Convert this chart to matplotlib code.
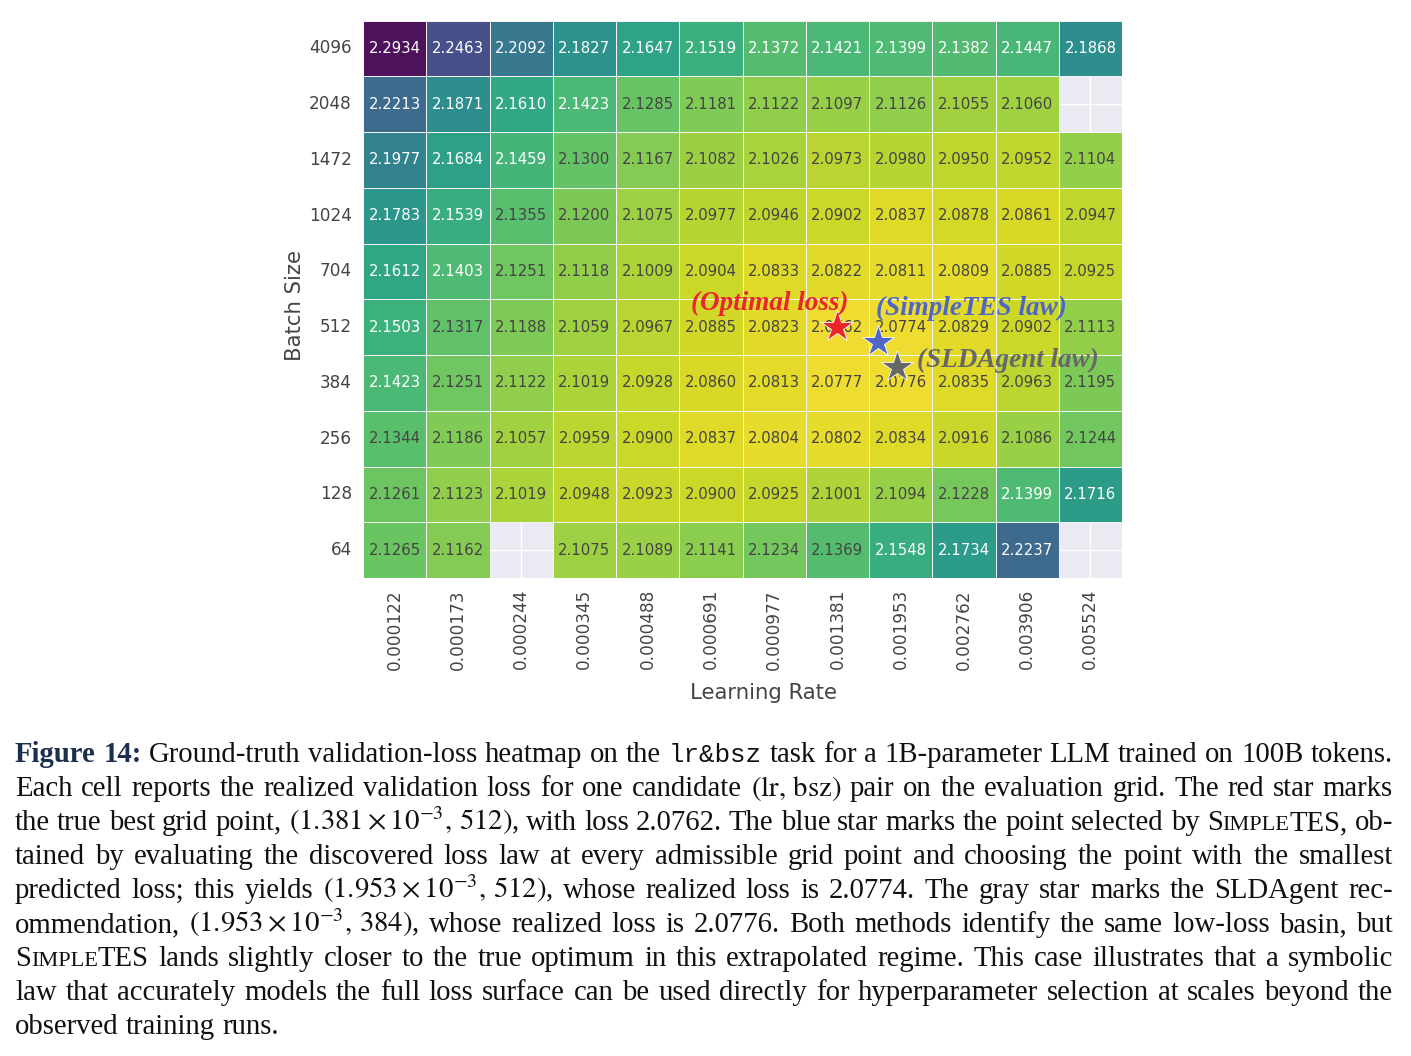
import matplotlib
matplotlib.use("Agg")
import matplotlib.pyplot as plt
from matplotlib.colors import ListedColormap
import numpy as np
import pandas as pd
import seaborn as sns

# grid values (rows top -> bottom)
learning_rates = ["0.000122", "0.000173", "0.000244", "0.000345", "0.000488", "0.000691",
                  "0.000977", "0.001381", "0.001953", "0.002762", "0.003906", "0.005524"]
batch_sizes = [4096, 2048, 1472, 1024, 704, 512, 384, 256, 128, 64]
nan = np.nan
loss_4096 = [2.2934, 2.2463, 2.2092, 2.1827, 2.1647, 2.1519, 2.1372, 2.1421, 2.1399, 2.1382, 2.1447, 2.1868]
loss_2048 = [2.2213, 2.1871, 2.1610, 2.1423, 2.1285, 2.1181, 2.1122, 2.1097, 2.1126, 2.1055, 2.1060, nan]
loss_1472 = [2.1977, 2.1684, 2.1459, 2.1300, 2.1167, 2.1082, 2.1026, 2.0973, 2.0980, 2.0950, 2.0952, 2.1104]
loss_1024 = [2.1783, 2.1539, 2.1355, 2.1200, 2.1075, 2.0977, 2.0946, 2.0902, 2.0837, 2.0878, 2.0861, 2.0947]
loss_704 = [2.1612, 2.1403, 2.1251, 2.1118, 2.1009, 2.0904, 2.0833, 2.0822, 2.0811, 2.0809, 2.0885, 2.0925]
loss_512 = [2.1503, 2.1317, 2.1188, 2.1059, 2.0967, 2.0885, 2.0823, 2.0762, 2.0774, 2.0829, 2.0902, 2.1113]
loss_384 = [2.1423, 2.1251, 2.1122, 2.1019, 2.0928, 2.0860, 2.0813, 2.0777, 2.0776, 2.0835, 2.0963, 2.1195]
loss_256 = [2.1344, 2.1186, 2.1057, 2.0959, 2.0900, 2.0837, 2.0804, 2.0802, 2.0834, 2.0916, 2.1086, 2.1244]
loss_128 = [2.1261, 2.1123, 2.1019, 2.0948, 2.0923, 2.0900, 2.0925, 2.1001, 2.1094, 2.1228, 2.1399, 2.1716]
loss_64 = [2.1265, 2.1162, nan, 2.1075, 2.1089, 2.1141, 2.1234, 2.1369, 2.1548, 2.1734, 2.2237, nan]

optimal_pt = ("0.001381", 512)
simpletes_pt = ("0.001953", 512)
sldagent_pt = ("0.001953", 384)

caption = [
    "**Figure **14: Ground-truth validation-loss heatmap on the `lr&bsz` task for a 1B-parameter LLM trained on 100B tokens.",
    r"Each cell reports the realized validation loss for one candidate $(\mathrm{lr},\,\mathrm{bsz})$ pair on the evaluation grid. The red star marks",
    r"the true best grid point, $(1.381\times10^{-3},\,512)$, with loss 2.0762. The blue star marks the point selected by SimpleTES, ob-",
    "tained by evaluating the discovered loss law at every admissible grid point and choosing the point with the smallest",
    r"predicted loss; this yields $(1.953\times10^{-3},\,512)$, whose realized loss is 2.0774. The gray star marks the SLDAgent rec-",
    r"ommendation, $(1.953\times10^{-3},\,384)$, whose realized loss is 2.0776. Both methods identify the same low-loss basin, but",
    "SimpleTES lands slightly closer to the true optimum in this extrapolated regime. This case illustrates that a symbolic",
    "law that accurately models the full loss surface can be used directly for hyperparameter selection at scales beyond the",
    "observed training runs.",
]

sns.set_theme(style="darkgrid")
plt.rcParams["mathtext.fontset"] = "stix"

W, H = 1411, 1056
fig = plt.figure(figsize=(W / 100, H / 100), dpi=100)
ax = fig.add_axes([363 / W, 1 - 578 / H, (1122 - 363) / W, (578 - 20.5) / H])

loss = pd.DataFrame([loss_4096, loss_2048, loss_1472, loss_1024, loss_704, loss_512,
                     loss_384, loss_256, loss_128, loss_64],
                    index=batch_sizes, columns=learning_rates)

# viridis_r, slightly toned down like the reference render
base = plt.get_cmap("viridis_r")(np.linspace(0, 1, 256))
base[:, :3] = 0.88 * base[:, :3] + 0.12 * 0.55
cmap = ListedColormap(base)

sns.heatmap(loss, ax=ax, cmap=cmap, annot=True, fmt=".4f", cbar=False,
            linewidths=0.6, linecolor="#f4f4f4", annot_kws={"size": 10.7})
# light text on the darker cells, grey text elsewhere
for t in ax.texts:
    t.set_color("white" if float(t.get_text()) >= 2.137 else "#444444")
ax.set_xticklabels(learning_rates, rotation=90, fontsize=12.2, color="#444444")
ax.set_yticklabels(batch_sizes, rotation=0, fontsize=12.2, color="#444444")
ax.tick_params(axis="both", length=0, pad=8)
ax.set_xlabel("Learning Rate", fontsize=15.3, color="#444444")
ax.set_ylabel("Batch Size", fontsize=15.3, color="#444444")
ax.xaxis.set_label_coords(0.528, -0.188)
ax.yaxis.set_label_coords(-0.077, 0.488)


def cell(pt):
    return learning_rates.index(pt[0]) + 0.5, batch_sizes.index(pt[1]) + 0.5


lab_font = dict(family="Liberation Serif", style="italic", weight="bold", fontsize=19.5)
markers = [
    (optimal_pt, "#e8262c", (0.0, 0.0), "(Optimal loss)", (-1.07, -0.43), "center"),
    (simpletes_pt, "#4f66c6", (-0.36, 0.27), "(SimpleTES law)", (-0.03, -0.61), "left"),
    (sldagent_pt, "#676767", (-0.06, -0.28), "(SLDAgent law)", (0.32, -0.13), "left"),
]
for pt, col, off, lab, loff, ha in markers:
    cx, cy = cell(pt)
    sx, sy = cx + off[0], cy + off[1]
    ax.plot(sx, sy, marker="*", ms=24, color=col, mec="white", mew=0.6, zorder=5)
    ax.text(sx + loff[0], sy + loff[1], lab, color=col, ha=ha, va="center", zorder=6, **lab_font)

# caption, typeset line by line with justified word spacing
fig.canvas.draw()
rend = fig.canvas.get_renderer()
navy = "#1c2f4f"


def parse_word(w):
    if w.startswith("**"):
        return [(w[2:], "b")]
    if w.startswith("`"):
        return [(w.strip("`"), "tt")]
    if "SimpleTES" in w:
        pre, post = w.split("SimpleTES")
        out = [(pre + "S", "n"), ("IMPLE", "sc"), ("TES" + post, "n")]
        return [p for p in out if p[0]]
    return [(w, "n")]


def props(st, fs):
    p = dict(family="Liberation Serif", fontsize=fs, color="#111111")
    if st == "b":
        p.update(weight="bold", color=navy)
    elif st == "tt":
        p.update(family="Liberation Mono", fontsize=fs * 0.9)
    elif st == "sc":
        p.update(fontsize=fs * 0.78)
    return p


def measure(txt, st, fs):
    t = fig.text(0, 0, txt, **props(st, fs))
    w = t.get_window_extent(rend).width
    t.remove()
    return w


x0, x1 = 15, 1393
target = x1 - x0
lines = [[parse_word(w) for w in ln.split(" ")] for ln in caption]


def natural(fs):
    res = []
    for words in lines:
        ws = [[measure(t, s, fs) for t, s in word] for word in words]
        res.append(ws)
    return res


fs = 20.0
ws = natural(fs)
space = 0.25 * fs * 100 / 72
mx = max(sum(sum(w) for w in wl) + space * (len(wl) - 1) for wl in ws[:-1])
fs = float(np.clip(fs * target / mx, 17, 22))
ws = natural(fs)
space = 0.25 * fs * 100 / 72

y = 762
for i, (words, wl) in enumerate(zip(lines, ws)):
    total = sum(sum(w) for w in wl)
    if i < len(lines) - 1:
        gap = (target - total) / (len(words) - 1)
    else:
        gap = space
    x = x0
    for word, wpieces in zip(words, wl):
        for (txt, st), pw in zip(word, wpieces):
            fig.text(x / W, 1 - y / H, txt, ha="left", va="baseline", **props(st, fs))
            x += pw
        x += gap
    y += 34

fig.savefig("out.png", dpi=100)
